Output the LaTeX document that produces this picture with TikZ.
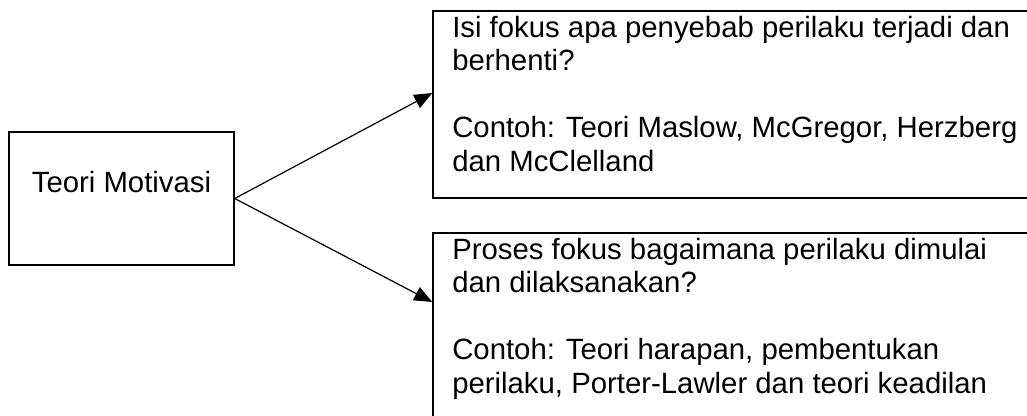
\documentclass[tikz,border=0pt]{standalone}
\usepackage{fontspec}
\setmainfont{Liberation Sans}
\usetikzlibrary{positioning,arrows.meta,fit}
\tikzset{
  kotak/.style={draw, line width=1.1pt, inner sep=0pt},
  teks/.style={font=\fontsize{22}{25.1}\selectfont, align=left, inner sep=0pt},
  panah/.style={-{Triangle[length=13.5pt,width=11pt]}, line width=0.9pt}
}
\begin{document}
\begin{tikzpicture}[x=0.75pt,y=-0.75pt]
  \useasboundingbox (0,0) rectangle (1027,416);
  % box corners
  \coordinate (tm-nw) at (9,132);
  \coordinate (tm-se) at (234,265);
  \coordinate (isi-nw) at (433,11);
  \coordinate (isi-se) at (1045,198);
  \coordinate (pr-nw) at (433,233);
  \coordinate (pr-se) at (1045,430);
  \node[kotak, fit=(tm-nw)(tm-se)] (teori) {};
  \node[kotak, fit=(isi-nw)(isi-se)] (isi) {};
  \node[kotak, fit=(pr-nw)(pr-se)] (proses) {};
  % texts
  \node[teks, anchor=base] (teori-t) at (121.5,193) {Teori Motivasi};
  \node[teks, anchor=north west] (isi-t) at (452,16) {Isi fokus apa penyebab perilaku terjadi dan\\
    berhenti?\\[25.1pt]
    Contoh: Teori Maslow, McGregor, Herzberg\\
    dan McClelland};
  \node[teks, anchor=north west] (proses-t) at (452,238) {Proses fokus bagaimana perilaku dimulai\\
    dan dilaksanakan?\\[25.1pt]
    Contoh: Teori harapan, pembentukan\\
    perilaku, Porter-Lawler dan teori keadilan};
  % arrows
  \draw[panah] (teori.east) -- (isi.west |- 0,93);
  \draw[panah] (teori.east) -- (proses.west |- 0,302);
\end{tikzpicture}
\end{document}
